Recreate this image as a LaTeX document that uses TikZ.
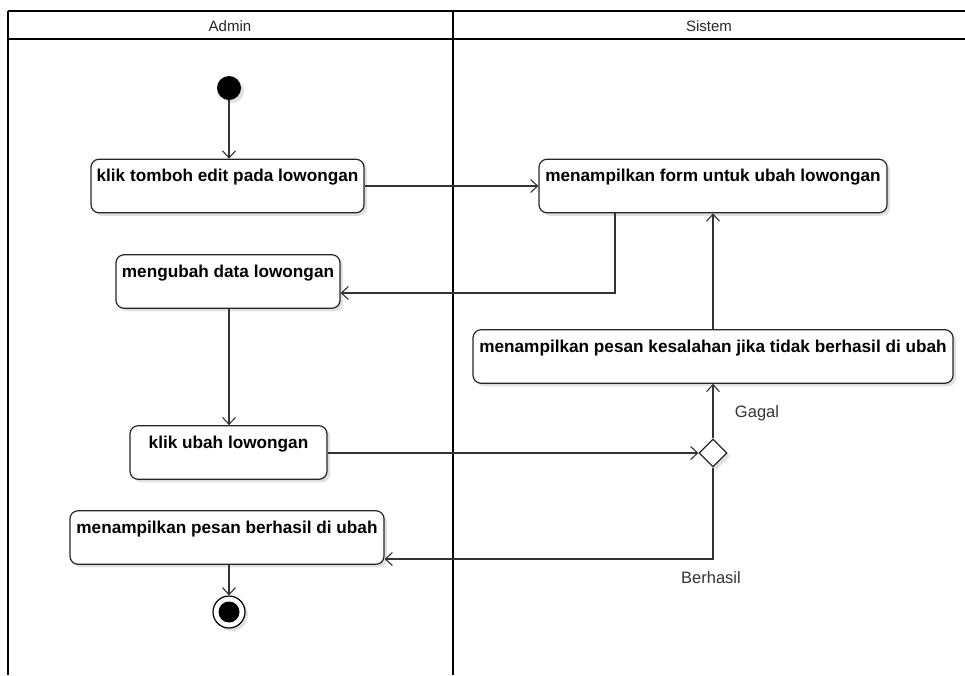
\documentclass[tikz,border=0pt]{standalone}
\usepackage{fontspec}
\setmainfont{Liberation Sans}
\usetikzlibrary{arrows.meta,shapes.geometric,shadows}
\begin{document}
\begin{tikzpicture}[x=1pt,y=-1pt,
  lane/.style={line width=2.6pt,black},
  act/.style={draw=black!85,line width=1.2pt,rounded corners=8pt,fill=white,
    font=\fontsize{17.2}{19}\selectfont\bfseries,inner sep=0pt,
    text height=22.5pt,text depth=31pt,
    general shadow={fill=black!12,shadow xshift=3pt,shadow yshift=-3pt}},
  flow/.style={draw=black!80,line width=1.2pt,-{Straight Barb[length=7pt,width=13pt,line width=1.1pt]}},
  lbl/.style={font=\fontsize{16.5}{18}\selectfont,text=black!80},
  hdr/.style={font=\fontsize{15}{17}\selectfont,text=black!85}
]
\useasboundingbox (0,0) rectangle (965,675);
% swimlanes
\draw[lane] (8,11) -- (965,11);
\draw[lane] (8,39) -- (965,39);
\draw[lane] (8,11) -- (8,675);
\draw[lane] (453,11) -- (453,675);
\node[hdr] (hA) at (230,26) {Admin};
\node[hdr] (hS) at (709,26) {Sistem};

% start / end
\node[circle,fill=black,minimum size=24pt,inner sep=0pt,
  general shadow={fill=black!12,shadow xshift=3pt,shadow yshift=-3pt}] (start) at (229,88) {};
\node[circle,draw=black,line width=1.2pt,fill=white,minimum size=32pt,inner sep=0pt,
  general shadow={fill=black!12,shadow xshift=3pt,shadow yshift=-3pt}] (end) at (229,612) {};
\node[circle,fill=black,minimum size=21pt,inner sep=0pt] (endin) at (229,612) {};

% activities
\node[act,minimum width=273pt] (b1) at (227.5,186) {klik tomboh edit pada lowongan};
\node[act,minimum width=348pt] (b2) at (713,186) {menampilkan form untuk ubah lowongan};
\node[act,minimum width=224pt] (b3) at (228,281.5) {mengubah data lowongan};
\node[act,minimum width=480pt] (b4) at (713,356.5) {menampilkan pesan kesalahan jika tidak berhasil di ubah};
\node[act,minimum width=197pt] (b5) at (228.5,452.5) {klik ubah lowongan};
\node[act,minimum width=314pt] (b6) at (227,537.5) {menampilkan pesan berhasil di ubah};

% decision
\node[diamond,draw=black!85,line width=1.2pt,fill=white,minimum size=28pt,inner sep=0pt,
  general shadow={fill=black!12,shadow xshift=3pt,shadow yshift=-3pt}] (dec) at (713,453) {};

% connectors
\coordinate (c1) at (615,293);
\coordinate (c2) at (713,559);
\draw[flow] (start) -- (b1.north -| start);
\draw[flow] (b1.east) -- (b2.west);
\draw[flow] (c1 |- b2.south) -- (c1) -- (c1 -| b3.east);
\draw[flow] (b3.south -| start) -- (b5.north -| start);
\draw[flow] (b5.east |- dec) -- (dec.west);
\draw[flow] (dec.north) -- (b4.south -| dec);
\draw[flow] (b4.north -| dec) -- (b2.south -| dec);
\draw[flow] (dec.south) -- (c2) -- (c2 -| b6.east);
\draw[flow] (b6.south -| end) -- (end.north);

\node[lbl] (gagal) at (757,413) {Gagal};
\node[lbl] (berhasil) at (711,578) {Berhasil};
\end{tikzpicture}
\end{document}
